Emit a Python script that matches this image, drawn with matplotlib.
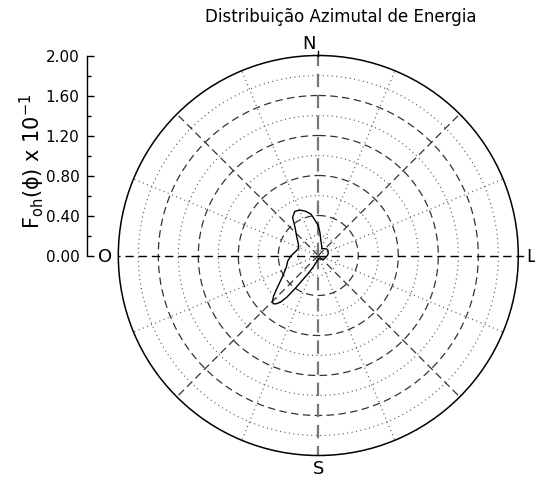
import numpy as np
import matplotlib.pyplot as plt

# azimuth (degrees, clockwise from North) and energy F_oh (x 10^-1)
azimute = [0, 4, 10, 20, 28, 40, 52, 60, 70, 81, 90, 100, 115, 130, 150, 170,
           190, 200, 205, 210, 213, 215, 217, 219, 221, 223, 225, 228, 232,
           240, 250, 260, 270, 280, 290, 300, 310, 320, 326, 332, 338, 344,
           350, 355]
energia = [0.30, 0.23, 0.15, 0.10, 0.075, 0.09, 0.105, 0.11, 0.105, 0.10,
           0.09, 0.08, 0.07, 0.06, 0.04, 0.03, 0.05, 0.09, 0.14, 0.22, 0.30,
           0.40, 0.52, 0.60, 0.64, 0.66, 0.65, 0.60, 0.52, 0.41, 0.34, 0.31,
           0.27, 0.23, 0.21, 0.23, 0.28, 0.36, 0.46, 0.50, 0.49, 0.46, 0.42,
           0.35]

raios = [0.2, 0.4, 0.6, 0.8, 1.0, 1.2, 1.4, 1.6, 1.8]
yticks = [0.0, 0.4, 0.8, 1.2, 1.6, 2.0]
rmax = 2.0

W, H = 535, 481
cx, cy, R = 318.3, 256.5, 200.0

fig = plt.figure(figsize=(W / 100, H / 100), dpi=100)

ax = fig.add_axes([(cx - R) / W, (H - cy - R) / H, 2 * R / W, 2 * R / H],
                  projection='polar')
ax.set_theta_zero_location('N')
ax.set_theta_direction(-1)
ax.set_ylim(0, rmax)
ax.grid(False)
ax.set_xticks([])
ax.set_yticks([])
ax.spines['polar'].set_linewidth(1.1)
ax.spines['polar'].set_color('black')

dash = (6, 3.5)
dot = (0.8, 2.8)
th = np.linspace(0, 2 * np.pi, 721)

# rings: dotted and dashed in turn
for i, r in enumerate(raios):
    if i % 2 == 0:
        ax.plot(th, np.full_like(th, r), color='#555555', lw=0.9,
                dashes=dot)
    else:
        ax.plot(th, np.full_like(th, r), color='#333333', lw=0.9,
                dashes=dash)

# spokes
for a in np.arange(22.5, 360, 45):
    ax.plot([np.radians(a)] * 2, [0, rmax], color='#555555', lw=0.9,
            dashes=dot)
for a in [45, 135, 225, 315]:
    ax.plot([np.radians(a)] * 2, [0, rmax], color='#333333', lw=0.9,
            dashes=dash)
ax.plot([0, 0], [0, rmax], color='#777777', lw=1.6, dashes=dash)
ax.plot([np.pi, np.pi], [0, rmax], color='#777777', lw=1.6, dashes=dash)
ax.plot([np.pi / 2] * 2, [0, rmax], color='black', lw=1.0, dashes=dash)
ax.plot([3 * np.pi / 2] * 2, [0, rmax], color='black', lw=1.0, dashes=dash)
for a in [0, 90]:
    ax.plot([np.radians(a)] * 2, [rmax, rmax + 0.05], color='black', lw=1.0,
            clip_on=False)

# energy curve
t = np.radians(azimute + azimute[:1])
ax.plot(t, energia + energia[:1], color='black', lw=1.0)

# compass letters
for a, s in [(-2.5, 'N'), (90, 'L'), (180, 'S'), (270, 'O')]:
    ax.text(np.radians(a), 2.13, s, ha='center', va='center', fontsize=13)

# radial scale on the left
ay = fig.add_axes([86.5 / W, (H - cy) / H, 0.001, R / H])
ay.set_ylim(0, rmax)
ay.set_xticks([])
for s in ['top', 'right', 'bottom']:
    ay.spines[s].set_visible(False)
ay.spines['left'].set_linewidth(1.0)
ay.set_yticks(yticks)
ay.set_yticklabels(['%.2f' % v for v in yticks], fontsize=11)
ay.set_yticks(np.arange(0.2, 2.0, 0.4), minor=True)
ay.tick_params(axis='y', which='major', direction='in', length=5, width=1,
               pad=5)
ay.tick_params(axis='y', which='minor', direction='in', length=3, width=1)

fig.text(32 / W, 1 - 161 / H, 'F$_{\\mathregular{oh}}$(ϕ) x 10$^{-1}$',
         rotation=90, ha='center', va='center', fontsize=15)

fig.text(341 / W, 1 - 17 / H, 'Distribuição Azimutal de Energia',
         ha='center', va='center', fontsize=12)

fig.savefig('out.png', dpi=100)
